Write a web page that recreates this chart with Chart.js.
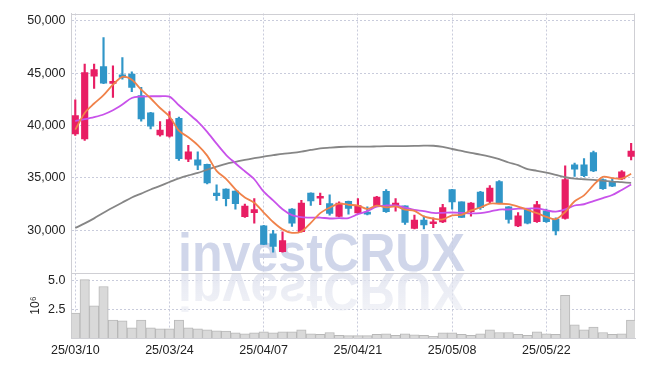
<!DOCTYPE html>
<html><head><meta charset="utf-8">
<script src="https://cdn.jsdelivr.net/npm/chart.js@4/dist/chart.umd.min.js"></script>
<style>html,body{margin:0;padding:0;background:#fff}</style>
</head><body>
<canvas id="c" width="645" height="366"></canvas>
<script>
const dates = ['25/03/10','25/03/11','25/03/12','25/03/13','25/03/14','25/03/17','25/03/18','25/03/19','25/03/20','25/03/21',
'25/03/24','25/03/25','25/03/26','25/03/27','25/03/28','25/03/31','25/04/01','25/04/02','25/04/03','25/04/04',
'25/04/07','25/04/08','25/04/09','25/04/10','25/04/11','25/04/14','25/04/15','25/04/16','25/04/17','25/04/18',
'25/04/21','25/04/22','25/04/23','25/04/24','25/04/25','25/04/28','25/04/29','25/04/30','25/05/02','25/05/07',
'25/05/08','25/05/09','25/05/12','25/05/13','25/05/14','25/05/15','25/05/16','25/05/19','25/05/20','25/05/21',
'25/05/22','25/05/23','25/05/26','25/05/27','25/05/28','25/05/29','25/05/30','25/06/02','25/06/04','25/06/05'];

const opens  = [39200,38720,44720,45630,44020,44840,44900,42850,41200,39100,
38980,40690,36780,36720,36280,33530,33910,33720,31290,31670,
30410,29650,27950,32020,29860,33540,33040,32530,31300,32750,
31650,31680,32310,33700,32310,32310,30170,30960,30610,30770,
33880,32690,31750,33630,32750,34640,32220,30390,31970,30800,
31840,31050,31120,36240,36240,37410,34830,34640,34890,37030];
const highs  = [42460,45860,45860,48390,45700,46490,45130,43640,41250,40370,
41320,40790,38110,37480,36300,34320,33950,33750,32490,33000,
30450,29970,29840,32050,32850,33560,33540,33380,32690,32780,
33000,32220,33220,33880,33000,32330,31430,31340,31180,32470,
33900,32700,32620,33700,34260,34730,32240,31680,32000,32750,
32000,31180,36150,36400,36840,37560,34890,34950,35680,38290];
const lows   = [39040,38570,43540,44000,42690,44430,43220,40400,39680,38980,
38880,36660,36530,35770,34420,32840,32300,31990,31200,30660,
28600,27890,27900,30350,29800,32370,32440,31430,31250,31520,
31600,31460,32280,31700,31810,30550,30110,30110,30240,30710,
32000,31200,31340,31970,32630,32600,30650,30330,30600,30740,
30740,29540,31050,35140,35110,35580,33880,34150,34830,36710];
const closes = [40940,45060,45350,44050,44210,44590,43640,40630,39930,39550,
40560,36820,37480,36210,34510,33280,33000,32520,32300,31960,
28640,28450,28990,30660,32590,32780,33100,31590,32590,32060,
32340,31530,33160,31750,32590,30740,30960,30490,30740,32150,
32690,31210,32590,32150,34010,32630,31020,31370,30650,32440,
30800,29920,34830,35830,35200,35650,33950,34200,35580,37560];

const ma5  = [39600,41200,42100,42900,43900,44650,44370,43420,42600,41670,
40860,39500,38870,38120,37120,35660,34900,33900,33120,32610,
31680,30770,30070,29740,29870,30690,31620,32140,32530,32420,
32340,32020,32340,32170,32270,31950,31840,31310,31100,31020,
31410,31460,31880,32160,32530,32520,32480,32240,31940,31620,
31260,31040,31730,32760,33320,34290,35090,34970,34920,35390];
const ma10 = [40420,40600,40800,41050,41450,42000,42620,42760,42790,42790,
42760,41930,41150,40360,39390,38260,37200,36390,35620,34860,
33670,32840,31990,31430,31240,31190,31200,31110,31140,31150,
31520,31820,32240,32350,32350,32150,31930,31820,31640,31650,
31680,31650,31590,31630,31770,31960,31970,32060,32050,32080,
31890,31760,31980,32350,32470,32770,33060,33350,33840,34350];
const ma60 = [30200,30640,31120,31660,32160,32640,33110,33490,33880,34220,
34600,34950,35220,35460,35770,36060,36340,36530,36720,36880,
37030,37160,37290,37380,37500,37660,37810,37880,37940,37970,
37970,37970,38000,38030,38030,38030,38040,38070,38060,37960,
37750,37560,37370,37220,37030,36780,36460,36200,35830,35670,
35490,35270,35050,34920,34860,34800,34730,34640,34580,34510];

const volumes = [2.16,5.06,2.78,4.46,1.56,1.48,0.88,1.56,0.88,0.80,
0.80,1.56,0.88,0.80,0.71,0.63,0.60,0.45,0.37,0.45,
0.54,0.45,0.54,0.54,0.71,0.37,0.31,0.48,0.23,0.20,
0.20,0.20,0.31,0.37,0.23,0.37,0.28,0.23,0.14,0.45,
0.45,0.31,0.23,0.37,0.71,0.48,0.48,0.31,0.23,0.54,
0.37,0.31,3.69,1.14,0.71,0.94,0.48,0.31,0.37,1.56];

const xTickIdx = [0,10,20,30,40,50];
const priceTicks = [30000,35000,40000,45000,50000];
const volTicks = [2.5,5.0];

const UP = '#e81e64', DOWN = '#3096c8';
const candleColors = closes.map((c,i)=> c >= opens[i] ? UP : DOWN);
const GRID = '#c9ccdc';
const AX = '#cfcfd4';
const tickFont = {family:'"Liberation Sans", Arial, sans-serif', size:12.5};
const TXT = '#222';

const watermark = {
  id:'wm',
  beforeDatasetsDraw(chart){
    const ctx = chart.ctx;
    const txt = 'investCRUX';
    ctx.save();
    ctx.font = 'bold 54px "Liberation Sans", Arial, sans-serif';
    const w = ctx.measureText(txt).width;
    const sx = 287 / w;
    const x0 = 178, base = 271;
    ctx.translate(x0, base);
    ctx.scale(sx, 1);
    ctx.fillStyle = 'rgba(200,207,230,0.85)';
    ctx.textBaseline = 'alphabetic';
    ctx.fillText(txt, 0, 0);
    ctx.scale(1, -1);
    const g = ctx.createLinearGradient(0, -2, 0, -44);
    g.addColorStop(0, 'rgba(222,225,238,0.8)');
    g.addColorStop(1, 'rgba(232,234,242,0.55)');
    ctx.fillStyle = g;
    ctx.fillText(txt, 0, -2);
    ctx.restore();

    const a = chart.chartArea;
    ctx.save();
    ctx.strokeStyle = AX; ctx.lineWidth = 1;
    ctx.beginPath();
    ctx.moveTo(a.left, Math.round(a.top)+0.5); ctx.lineTo(a.right, Math.round(a.top)+0.5);
    ctx.moveTo(Math.round(a.right)-0.5, a.top); ctx.lineTo(Math.round(a.right)-0.5, a.bottom);
    const sep = Math.round(chart.scales.yv.top)+0.5;
    ctx.moveTo(a.left, sep); ctx.lineTo(a.right, sep);
    ctx.stroke();
    ctx.restore();
  }
};

new Chart(document.getElementById('c'), {
  type:'bar',
  data:{ datasets:[
    {type:'line', label:'MA5', data: ma5.map((v,i)=>({x:i,y:v})), borderColor:'#f0824a', borderWidth:1.8, pointRadius:0, tension:0.3, yAxisID:'y', order:0},
    {type:'line', label:'MA10', data: ma10.map((v,i)=>({x:i,y:v})), borderColor:'#c852ea', borderWidth:1.8, pointRadius:0, tension:0.3, yAxisID:'y', order:1},
    {type:'line', label:'MA60', data: ma60.map((v,i)=>({x:i,y:v})), borderColor:'#868686', borderWidth:1.8, pointRadius:0, tension:0.3, yAxisID:'y', order:2},
    {label:'body', data: opens.map((o,i)=>({x:i, y:[o, closes[i]]})), backgroundColor: candleColors, barThickness:6.5, minBarLength:2, grouped:false, yAxisID:'y', order:3},
    {label:'wick', data: lows.map((l,i)=>({x:i, y:[l, highs[i]]})), backgroundColor: candleColors, barThickness:1.5, grouped:false, yAxisID:'y', order:4},
    {label:'volume', data: volumes.map((v,i)=>({x:i, y:v})), backgroundColor:'#d9d9d9', borderColor:'#b8b8b8', borderWidth:1, barPercentage:1, categoryPercentage:1, grouped:false, yAxisID:'yv', order:5}
  ]},
  options:{
    responsive:false, animation:false, devicePixelRatio:1,
    layout:{padding:{top:9, right:10, left:0, bottom:0}},
    plugins:{legend:{display:false}, tooltip:{enabled:false}},
    scales:{
      yv:{type:'linear', position:'left', stack:'p', stackWeight:1, min:0, max:5.62,
         afterBuildTicks:s=>{ s.ticks = volTicks.map(v=>({value:v})); },
         ticks:{callback:v=>v.toFixed(1), font:tickFont, color:TXT, padding:6},
         grid:{color:GRID, drawTicks:false},
         border:{color:AX, dash:[2,2]},
         title:{display:true, text:'10⁶', font:{family:'"Liberation Sans", Arial, sans-serif', size:12}, color:TXT, padding:{top:28, bottom:0}},
         afterFit:s=>{ s.width = 71.5; }},
      y:{type:'linear', position:'left', stack:'p', stackWeight:4, min:25890, max:50700,
         afterBuildTicks:s=>{ s.ticks = priceTicks.map(v=>({value:v})); },
         ticks:{callback:v=>v.toLocaleString('en-US'), font:tickFont, color:TXT, padding:6},
         grid:{color:GRID, drawTicks:false},
         border:{color:AX, dash:[2,2]},
         afterFit:s=>{ s.width = 71.5; }},
      x:{type:'linear', offset:false, min:-0.4, max:59.41,
         afterBuildTicks:s=>{ s.ticks = xTickIdx.map(v=>({value:v})); },
         ticks:{callback:v=>dates[v], font:tickFont, color:TXT, padding:5, maxRotation:0, autoSkip:false},
         grid:{color:GRID, drawTicks:false, offset:false},
         border:{color:AX, dash:[2,2]},
         afterFit:s=>{ s.height = 28; }}
    }
  },
  plugins:[watermark]
});
</script>
</body></html>
